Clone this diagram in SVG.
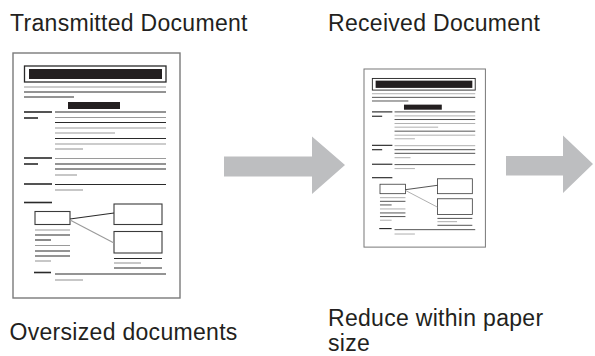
<svg xmlns="http://www.w3.org/2000/svg" xmlns:xlink="http://www.w3.org/1999/xlink" width="595" height="356" viewBox="0 0 595 356">
<style>
.lbl{font-family:"Liberation Sans",Arial,Helvetica,sans-serif;font-size:23px;letter-spacing:0.3px;fill:#231f20}
.page{fill:#fff;stroke:#7a7a7a;stroke-width:1.4}
.d{stroke:#2a2a2a;stroke-width:1.1;fill:none}
.g{stroke:#9a9a9a;stroke-width:1.1;fill:none}
.k{stroke:#2a2a2a;stroke-width:1.6;fill:none}
.box{fill:#fff;stroke:#3a3a3a;stroke-width:1.1}
.bar{fill:#231f20}
.arrow{fill:#bdbec0}
</style>
<defs>
<g id="doc">
<rect class="page" x="13" y="53" width="167" height="245"/>
<rect x="24.5" y="66" width="141.5" height="16" fill="none" stroke="#2a2a2a" stroke-width="1.3"/>
<rect class="bar" x="29" y="69" width="133" height="10"/>
<line class="g" x1="24" y1="87" x2="166" y2="87"/>
<line class="d" x1="24" y1="92" x2="166" y2="92"/>
<line class="d" x1="24" y1="97" x2="74" y2="97"/>
<rect class="bar" x="68" y="102" width="52" height="7"/>
<line class="k" x1="24" y1="112" x2="52" y2="112"/>
<line class="k" x1="24" y1="118" x2="38" y2="118"/>
<line class="d" x1="55" y1="112" x2="166" y2="112"/>
<line class="g" x1="55" y1="117.5" x2="166" y2="117.5"/>
<line class="d" x1="55" y1="122.5" x2="166" y2="122.5"/>
<line class="g" x1="55" y1="128" x2="166" y2="128"/>
<line class="g" x1="55" y1="133" x2="115" y2="133"/>
<line class="d" x1="55" y1="138.5" x2="166" y2="138.5"/>
<line class="g" x1="55" y1="144" x2="166" y2="144"/>
<line class="g" x1="55" y1="149" x2="83" y2="149"/>
<line class="k" x1="24" y1="158" x2="52" y2="158"/>
<line class="k" x1="24" y1="164" x2="38" y2="164"/>
<line class="g" x1="55" y1="158.5" x2="166" y2="158.5"/>
<line class="d" x1="55" y1="164" x2="166" y2="164"/>
<line class="d" x1="55" y1="169" x2="166" y2="169"/>
<line class="g" x1="55" y1="175" x2="77" y2="175"/>
<line class="k" x1="24" y1="184" x2="52" y2="184"/>
<line class="d" x1="55" y1="184.5" x2="166" y2="184.5"/>
<line class="g" x1="55" y1="190" x2="83" y2="190"/>
<line class="k" x1="24" y1="202.5" x2="52" y2="202.5"/>
<rect class="box" x="35" y="211.5" width="35" height="13"/>
<rect class="box" x="114" y="204" width="48" height="20.5"/>
<rect class="box" x="114" y="231.5" width="48" height="21.5"/>
<line class="d" x1="70" y1="219" x2="114" y2="213"/>
<line class="g" x1="70" y1="220" x2="114" y2="243"/>
<line class="g" x1="35" y1="230" x2="70" y2="230"/>
<line class="d" x1="35" y1="235" x2="70" y2="235"/>
<line class="d" x1="35" y1="240" x2="51" y2="240"/>
<line class="g" x1="35" y1="245.5" x2="70" y2="245.5"/>
<line class="d" x1="35" y1="251" x2="70" y2="251"/>
<line class="d" x1="35" y1="256" x2="70" y2="256"/>
<line class="g" x1="35" y1="261" x2="51" y2="261"/>
<line class="d" x1="114" y1="258.5" x2="162" y2="258.5"/>
<line class="g" x1="114" y1="263" x2="141" y2="263"/>
<line class="d" x1="114" y1="268" x2="162" y2="268"/>
<line class="k" x1="34" y1="272.5" x2="51" y2="272.5"/>
<line class="d" x1="55" y1="274" x2="166" y2="274"/>
<line class="g" x1="55" y1="280" x2="83" y2="280"/>
</g>
</defs>
<rect width="595" height="356" fill="#fff"/>
<g id="transmitted-document">
<text class="lbl" x="10" y="30.5">Transmitted Document</text>
<use xlink:href="#doc" href="#doc"/>
<text class="lbl" x="9.5" y="340">Oversized documents</text>
</g>
<g id="received-document">
<text class="lbl" x="328" y="30.5">Received Document</text>
<use xlink:href="#doc" href="#doc" transform="translate(354.55,30.47) scale(0.727)"/>
<text class="lbl"><tspan x="328" y="326">Reduce within paper</tspan><tspan x="328" y="351">size</tspan></text>
</g>
<g id="connectors">
<polygon id="arrow-1" class="arrow" points="224,156.5 312,156.5 312,136.5 345,165 312,194 312,176.5 224,176.5"/>
<polygon id="arrow-2" class="arrow" points="506,156 563,156 563,135.5 593,164 563,193 563,175.5 506,175.5"/>
</g>
</svg>
